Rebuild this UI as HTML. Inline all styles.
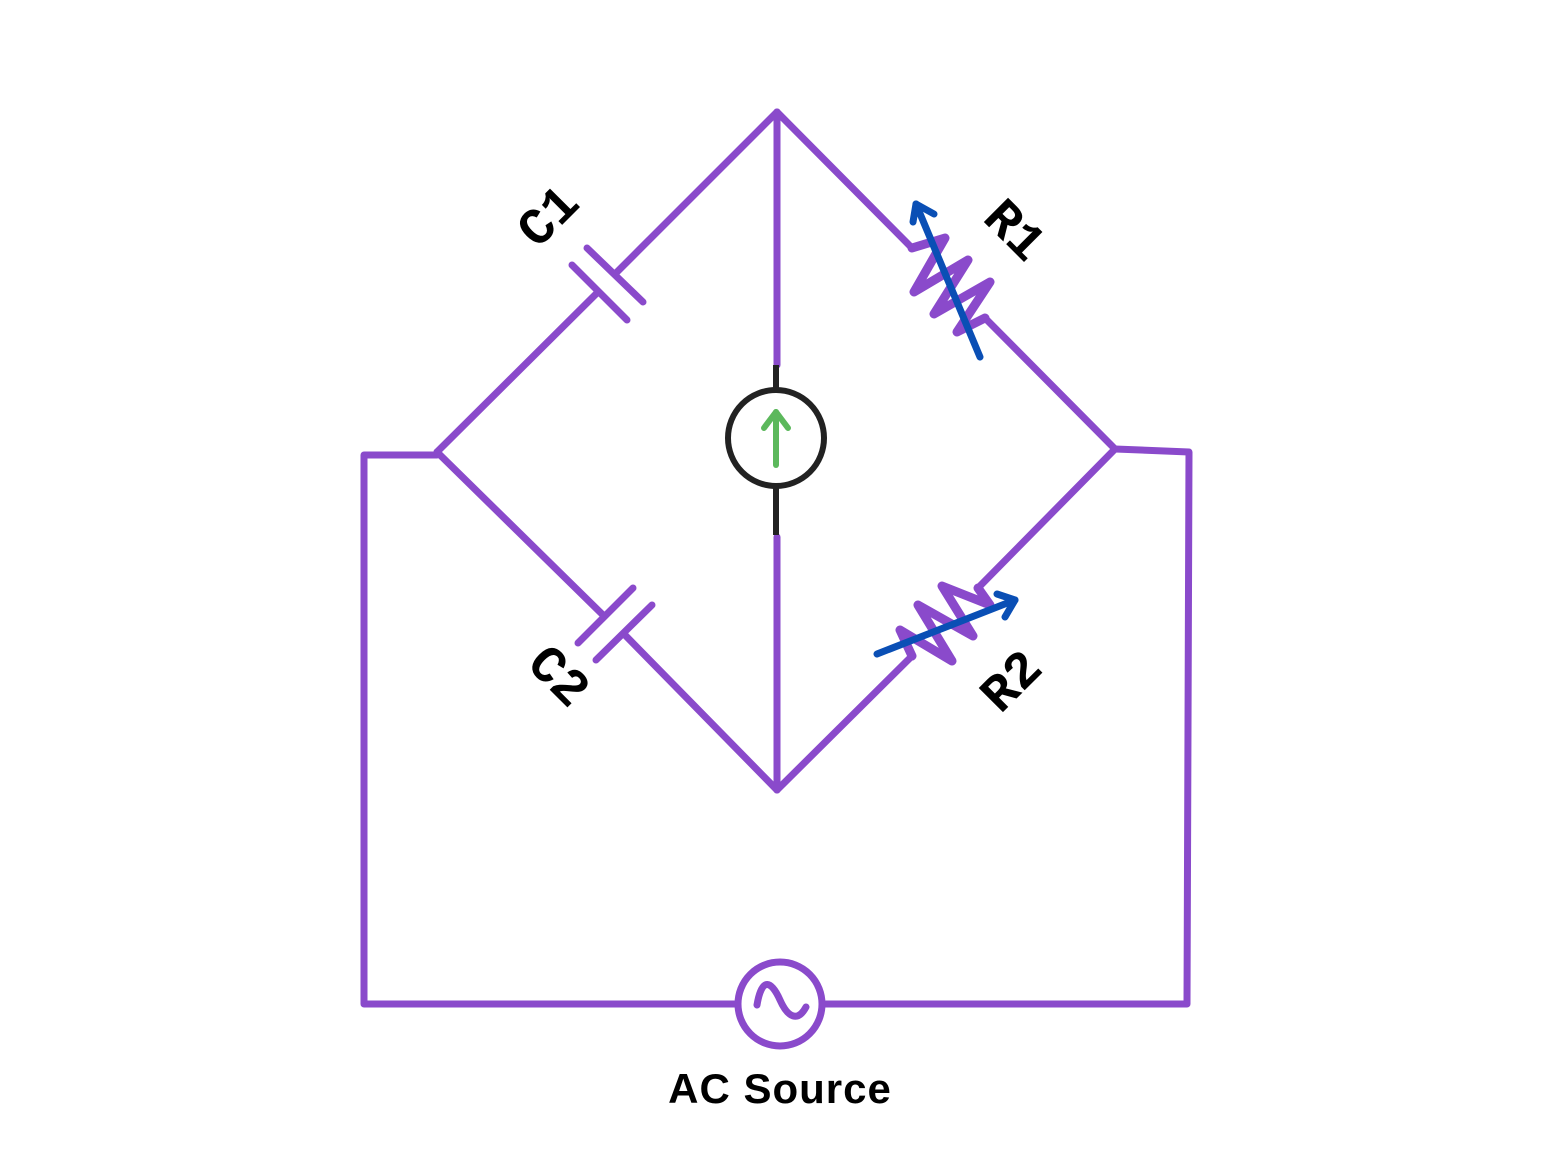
<!DOCTYPE html>
<html><head><style>html,body{margin:0;padding:0;background:#fff}</style></head>
<body>
<svg width="1566" height="1160" viewBox="0 0 1566 1160" xmlns="http://www.w3.org/2000/svg">
<g fill="none" stroke="#8a4acb" stroke-width="7" stroke-linecap="round" stroke-linejoin="round">
<polyline points="777,112 617,272"/>
<line x1="587" y1="248" x2="643" y2="302"/>
<line x1="572" y1="265" x2="627" y2="320"/>
<polyline points="598,292 437,452"/>
<polyline points="437,452 603,615"/>
<line x1="578" y1="643" x2="633" y2="588"/>
<line x1="596" y1="660" x2="652" y2="605"/>
<polyline points="624,634 777,790"/>
<polyline points="777,112 912,248"/>
<polyline points="985,318 1115,449"/>
<polyline points="1115,449 978,588"/>
<polyline points="912,656 777,790"/>
<line x1="777" y1="112" x2="777" y2="365"/>
<line x1="777" y1="537" x2="777" y2="790"/>
<polyline points="437,455 364,455 364,1004 738,1004"/>
<polyline points="822,1004 1187,1004 1189,452 1115,449"/>
<circle cx="780" cy="1004" r="42"/>
<path d="M757,1005 C762,975 772,982 780,1000 C788,1018 798,1022 806,1007"/>
</g>
<g fill="none" stroke="#8a4acb" stroke-width="9" stroke-linecap="round" stroke-linejoin="round">
<polyline points="912,248 945,238 914,292 968,260 934,314 990,282 957,332 985,318"/>
<polyline points="978,588 990,605 942,586 973,636 918,605 952,661 900,630 912,656"/>
</g>
<g stroke="#222" stroke-width="6" fill="none">
<line x1="776" y1="365" x2="776" y2="390"/>
<line x1="776" y1="486" x2="776" y2="535"/>
<circle cx="776" cy="438" r="48"/>
</g>
<g stroke="#5cb85c" stroke-width="6" fill="none" stroke-linecap="round" stroke-linejoin="round">
<line x1="776" y1="465" x2="776" y2="412"/>
<polyline points="764,428 776,412 788,428"/>
</g>
<g stroke="#0a4fb5" stroke-width="7" fill="none" stroke-linecap="round" stroke-linejoin="round">
<line x1="980" y1="357" x2="916" y2="204"/>
<polyline points="913,222 916,204 934,214"/>
<line x1="877" y1="654" x2="1015" y2="600"/>
<polyline points="997,594 1015,600 1005,617"/>
</g>
<g font-family="Liberation Mono, monospace" font-weight="bold" font-size="52" fill="#000" text-anchor="middle" dominant-baseline="central">
<text transform="translate(550,218) rotate(-45)">C1</text>
<text transform="translate(1013,232) rotate(45)">R1</text>
<text transform="translate(557,678) rotate(45)">C2</text>
<text transform="translate(1013,683) rotate(-45)">R2</text>
</g>
<text x="780" y="1103" font-family="Liberation Sans, sans-serif" font-weight="bold" font-size="42" letter-spacing="1" text-anchor="middle" fill="#000">AC Source</text>
</svg>
</body></html>
